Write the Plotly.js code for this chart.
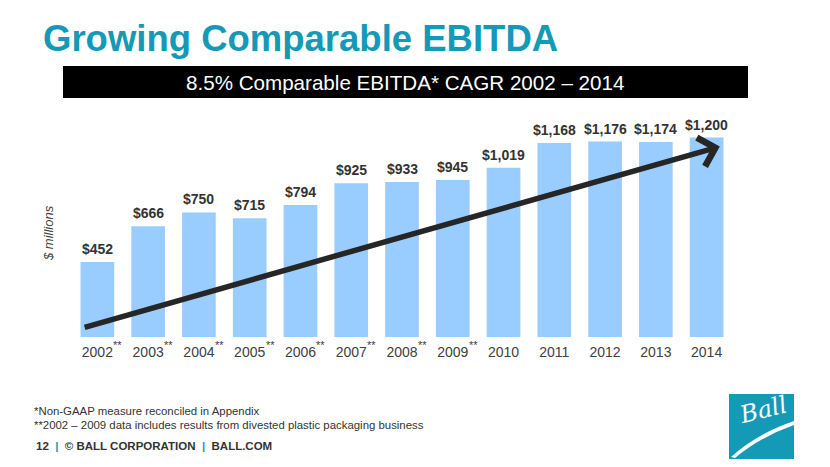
<!DOCTYPE html>
<html>
<head>
<meta charset="utf-8">
<script src="https://cdn.plot.ly/plotly-3.0.1.min.js"></script>
<style>html,body{margin:0;padding:0;background:#fff;}#chart{width:830px;height:467px;}</style>
</head>
<body>
<div id="chart"></div>
<script>
// ---- data ----
const years = ['2002','2003','2004','2005','2006','2007','2008','2009','2010','2011','2012','2013','2014'];
const ebitda = [452, 666, 750, 715, 794, 925, 933, 945, 1019, 1168, 1176, 1174, 1200];
const includesPlastic = [true,true,true,true,true,true,true,true,false,false,false,false,false];
const trendStart = [-0.28, 56];    // [bar index, $ millions]
const trendEnd = [12.26, 1146];

// ---- layout geometry ----
const W = 830, H = 467;
const L = 72, R = 98, T = 121, B = 130;
const pw = W - L - R, ph = H - T - B;
const px = x => (x - L) / pw;
const py = y => (H - B - y) / ph;
const FONT = 'Liberation Sans, Arial, Helvetica, sans-serif';
const TEAL = '#1499b6';

const idx = years.map((_, i) => i);
const fmt = v => '$' + v.toLocaleString('en-US');

const annotations = [];
idx.forEach(i => {
  annotations.push({
    x: i, y: ebitda[i], xref: 'x', yref: 'y', text: '<b>' + fmt(ebitda[i]) + '</b>',
    showarrow: false, yanchor: 'bottom', yshift: 3,
    font: {family: FONT, size: 14, color: '#333333'}
  });
  if (includesPlastic[i]) {
    annotations.push({
      x: i, y: 0, xref: 'x', yref: 'y', text: '**', showarrow: false,
      xanchor: 'left', yanchor: 'top', xshift: 14, yshift: 0,
      font: {family: FONT, size: 11, color: '#404040'}
    });
  }
});

// trend arrow
annotations.push({
  x: trendEnd[0], y: trendEnd[1], ax: trendStart[0], ay: trendStart[1],
  xref: 'x', yref: 'y', axref: 'x', ayref: 'y', text: '',
  showarrow: true, arrowhead: 4, arrowwidth: 5.5, arrowsize: 1.05,
  arrowcolor: '#262626', standoff: 0, startstandoff: 0
});

// y axis title
annotations.push({
  x: px(48), y: py(233), xref: 'paper', yref: 'paper', text: '<i>$ millions</i>',
  textangle: -90, showarrow: false, xanchor: 'center', yanchor: 'middle',
  font: {family: FONT, size: 13, color: '#404040'}
});

// subtitle band text
annotations.push({
  x: px(405.5), y: py(82), xref: 'paper', yref: 'paper',
  text: '8.5% Comparable EBITDA* CAGR 2002 – 2014', showarrow: false,
  xanchor: 'center', yanchor: 'middle',
  font: {family: FONT, size: 20.6, color: '#ffffff'}
});

// footnotes
annotations.push({
  x: px(32), y: py(411), xref: 'paper', yref: 'paper',
  text: '*Non-GAAP measure reconciled in Appendix', showarrow: false,
  xanchor: 'left', yanchor: 'middle', font: {family: FONT, size: 11.4, color: '#333333'}
});
annotations.push({
  x: px(32), y: py(425), xref: 'paper', yref: 'paper',
  text: '**2002 – 2009 data includes results from divested plastic packaging business', showarrow: false,
  xanchor: 'left', yanchor: 'middle', font: {family: FONT, size: 11.4, color: '#333333'}
});
annotations.push({
  x: px(34), y: py(446), xref: 'paper', yref: 'paper',
  text: '<b>12  <span style="color:' + TEAL + '">|</span>  © BALL CORPORATION  <span style="color:' + TEAL + '">|</span>  BALL.COM</b>',
  showarrow: false, xanchor: 'left', yanchor: 'middle',
  font: {family: FONT, size: 11.5, color: '#333333'}
});

// logo text
annotations.push({
  x: px(763), y: py(410), xref: 'paper', yref: 'paper',
  text: '<i>Ball</i>', showarrow: false, xanchor: 'center', yanchor: 'middle', textangle: -14,
  font: {family: 'DejaVu Serif, serif', size: 24, color: '#ffffff'}
});

const pt = (x, y) => px(x).toFixed(5) + ',' + py(y).toFixed(5);
const swoosh = 'M' + pt(731, 457) + ' Q' + pt(756, 434) + ' ' + pt(794, 421) +
  ' L' + pt(794, 425) + ' Q' + pt(760, 437) + ' ' + pt(735, 458) + ' Z';

const shapes = [
  {type: 'rect', xref: 'paper', yref: 'paper', x0: px(63), x1: px(748), y0: py(98), y1: py(66),
   fillcolor: '#000000', line: {width: 0}, layer: 'below'},
  {type: 'rect', xref: 'paper', yref: 'paper', x0: px(729), x1: px(794), y0: py(459), y1: py(394),
   fillcolor: TEAL, line: {width: 0}},
  {type: 'path', xref: 'paper', yref: 'paper', path: swoosh, fillcolor: '#ffffff', line: {width: 0}}
];

const trace = {
  type: 'bar', x: idx, y: ebitda,
  marker: {color: '#99CCFF', line: {width: 0}},
  hoverinfo: 'none', cliponaxis: false
};

const layout = {
  width: W, height: H,
  margin: {l: L, r: R, t: T, b: B, pad: 0},
  paper_bgcolor: '#ffffff', plot_bgcolor: '#ffffff',
  showlegend: false, bargap: 0.337,
  title: {
    text: '<b>Growing Comparable EBITDA</b>',
    xref: 'container', yref: 'container', x: 43 / W, xanchor: 'left',
    y: 1 - 38 / H, yanchor: 'middle',
    font: {family: FONT, size: 36.5, color: TEAL}
  },
  xaxis: {
    type: 'linear', range: [-0.5, 12.5], autorange: false,
    tickmode: 'array', tickvals: idx, ticktext: years,
    showgrid: false, showline: false, zeroline: false, ticks: '',
    ticklabelstandoff: 5,
    tickfont: {family: FONT, size: 14, color: '#404040'}, fixedrange: true
  },
  yaxis: {
    range: [0, 1300], autorange: false, showgrid: false, showline: false, zeroline: false,
    showticklabels: false, ticks: '', fixedrange: true
  },
  annotations: annotations,
  shapes: shapes
};

Plotly.newPlot('chart', [trace], layout, {displayModeBar: false, staticPlot: true});
</script>
</body>
</html>
